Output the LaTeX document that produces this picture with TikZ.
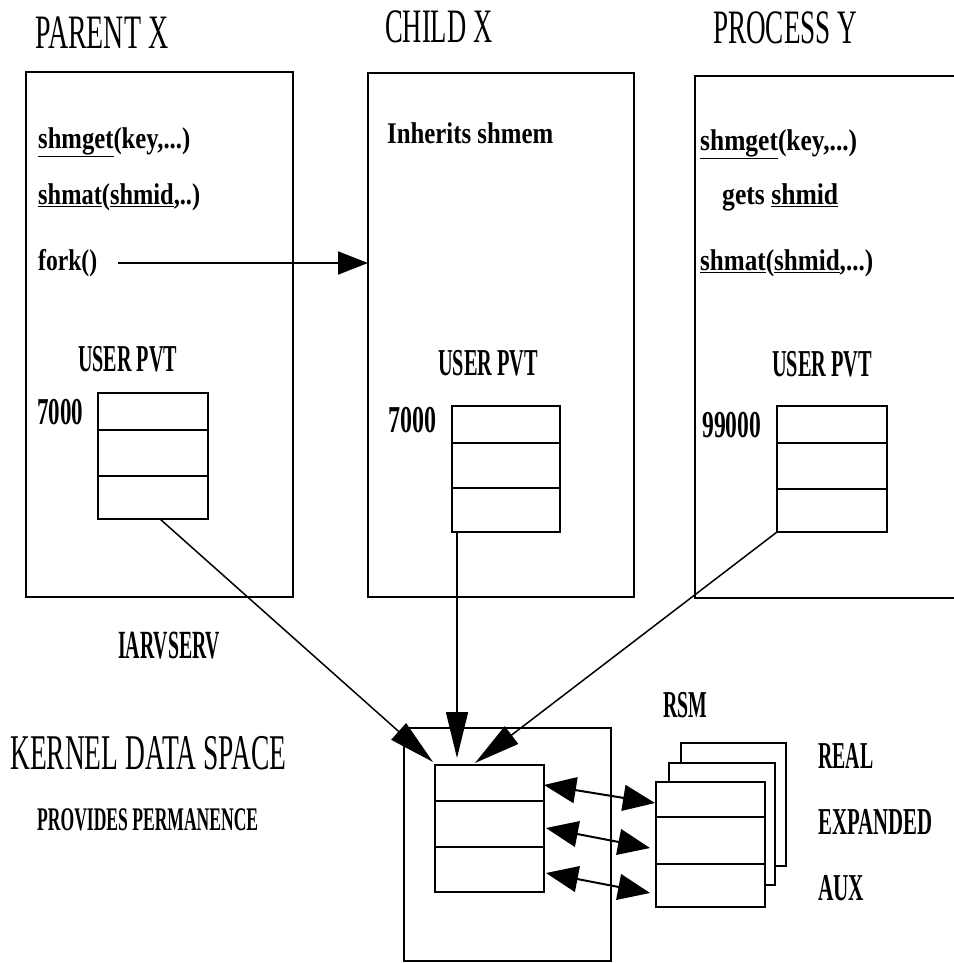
\documentclass[tikz,border=0pt]{standalone}
\usepackage{fontspec}
\setmainfont{Liberation Serif}
\usepackage{graphicx}
\usetikzlibrary{arrows.meta,fit}
\newcommand\tw[2]{\resizebox{#1pt}{\height}{#2}}
\begin{document}
\begin{tikzpicture}[x=1pt,y=-1pt,
  box/.style={draw, line width=2.8pt, inner sep=0pt, outer sep=0pt},
  tab/.style={draw, line width=2.6pt, fill=white, inner sep=0pt, outer sep=0pt},
  page/.style={draw, line width=1.3pt, fill=white, inner sep=0pt, outer sep=0pt},
  divl/.style={line width=1.3pt},
  title/.style={inner sep=0pt, anchor=west, font=\fontsize{48}{50}\selectfont},
  capt/.style={inner sep=0pt, anchor=west, font=\fontsize{38}{40}\selectfont\bfseries},
  code/.style={inner sep=0pt, anchor=west, font=\fontsize{30}{32}\selectfont\bfseries},
  forkarrow/.style={line width=1.8pt, -{Triangle[length=30pt,width=23pt]}},
  kin/.style={line width=1.5pt, -{Triangle[length=46pt,width=22pt]}},
  dbl/.style={line width=2pt, {Triangle[length=32pt,width=26pt]}-{Triangle[length=32pt,width=26pt]}}
]
\useasboundingbox[fill=white] (0,0) rectangle (953,963);

% titles
\node[title] (tparent) at (35,33) {\tw{133}{PARENT X}};
\node[title] (tchild) at (385,27) {\tw{107}{CHILD X}};
\node[title] (tproc) at (713,28) {\tw{144}{PROCESS Y}};

% process boxes
\node[box, fit={(26,72) (293,597)}] (parent) {};
\node[box, fit={(368,73) (634,597)}] (child) {};
\node[box, fit={(695,76) (990,598)}] (proc) {};

% parent texts
\node[code] (p1) at (38,142) {\tw{152}{\underline{shmget}(key,...)}};
\node[code] (p2) at (38,197) {\tw{162}{\underline{shmat}(\underline{shmid},..)}};
\node[code] (p3) at (38,263) {\tw{59}{fork()}};

% child texts
\node[code] (c1) at (387,133) {\tw{166}{Inherits shmem}};

% process Y texts
\node[code] (y1) at (700,144) {\tw{157}{\underline{shmget}(key,...)}};
\node[code] (y2) at (722,197) {\tw{116}{gets \underline{shmid}}};
\node[code] (y3) at (700,263) {\tw{173}{\underline{shmat}(\underline{shmid},...)}};

% user pvt labels
\node[capt] (pu) at (78,359) {\tw{99}{USER PVT}};
\node[capt] (cu) at (438,363) {\tw{100}{USER PVT}};
\node[capt] (yu) at (772,364) {\tw{100}{USER PVT}};
\node[capt] (pa) at (37,412) {\tw{46}{7000}};
\node[capt] (ca) at (388,420) {\tw{48}{7000}};
\node[capt] (ya) at (702,425) {\tw{59}{99000}};

% user tables
\node[tab, fit={(98,393) (208,519)}] (ptab) {};
\draw[divl] (98,430) -- (208,430) (98,476) -- (208,476);
\node[tab, fit={(452,406) (560,532)}] (ctab) {};
\draw[divl] (452,443) -- (560,443) (452,488) -- (560,488);
\node[tab, fit={(777,406) (887,532)}] (ytab) {};
\draw[divl] (777,443) -- (887,443) (777,489) -- (887,489);

% fork arrow
\coordinate (forkstart) at (118,263);
\draw[forkarrow] (forkstart) -- (child.west |- forkstart);

% lower labels
\node[capt, font=\fontsize{40}{42}\selectfont\bfseries] (iarv) at (118,646) {\tw{102}{IARVSERV}};
\node[title, font=\fontsize{50}{52}\selectfont] (kds) at (10,753) {\tw{276}{KERNEL DATA SPACE}};
\node[capt, font=\fontsize{33}{35}\selectfont\bfseries] (perm) at (37,820) {\tw{221}{PROVIDES PERMANENCE}};

% kernel box and table
\node[box, fit={(404,728) (611,961)}] (kernel) {};
\node[tab, fit={(435,765) (544,892)}] (ktab) {};
\draw[divl] (435,801) -- (544,801) (435,847) -- (544,847);

% RSM pages
\node[capt] (rsm) at (663,705) {\tw{44}{RSM}};
\node[page, fit={(681,743) (786,866)}] (pg3) {};
\node[page, fit={(669,763) (775,885)}] (pg2) {};
\node[tab, fit={(656,782) (765,907)}] (pg1) {};
\draw[divl] (656,817) -- (765,817) (656,864) -- (765,864);
\node[capt] (real) at (818,756) {\tw{55}{REAL}};
\node[capt] (exp) at (818,822) {\tw{114}{EXPANDED}};
\node[capt] (aux) at (818,888) {\tw{46}{AUX}};

% connectors into kernel
\coordinate (pfrom) at (160,519);
\coordinate (pto) at (433,762);
\draw[kin] (pfrom) -- (pto);
\coordinate (cfrom) at (457,532);
\coordinate (cto) at (457,758);
\draw[kin] (cfrom) -- (cto);
\coordinate (yto) at (475,763);
\draw[kin] (ytab.south west) -- (yto);

% double arrows kernel <-> RSM
\coordinate (d1a) at (544,785); \coordinate (d1b) at (655,803);
\coordinate (d2a) at (546,828); \coordinate (d2b) at (650,848);
\coordinate (d3a) at (546,873); \coordinate (d3b) at (650,893);
\draw[dbl] (d1a) -- (d1b);
\draw[dbl] (d2a) -- (d2b);
\draw[dbl] (d3a) -- (d3b);
\end{tikzpicture}
\end{document}
